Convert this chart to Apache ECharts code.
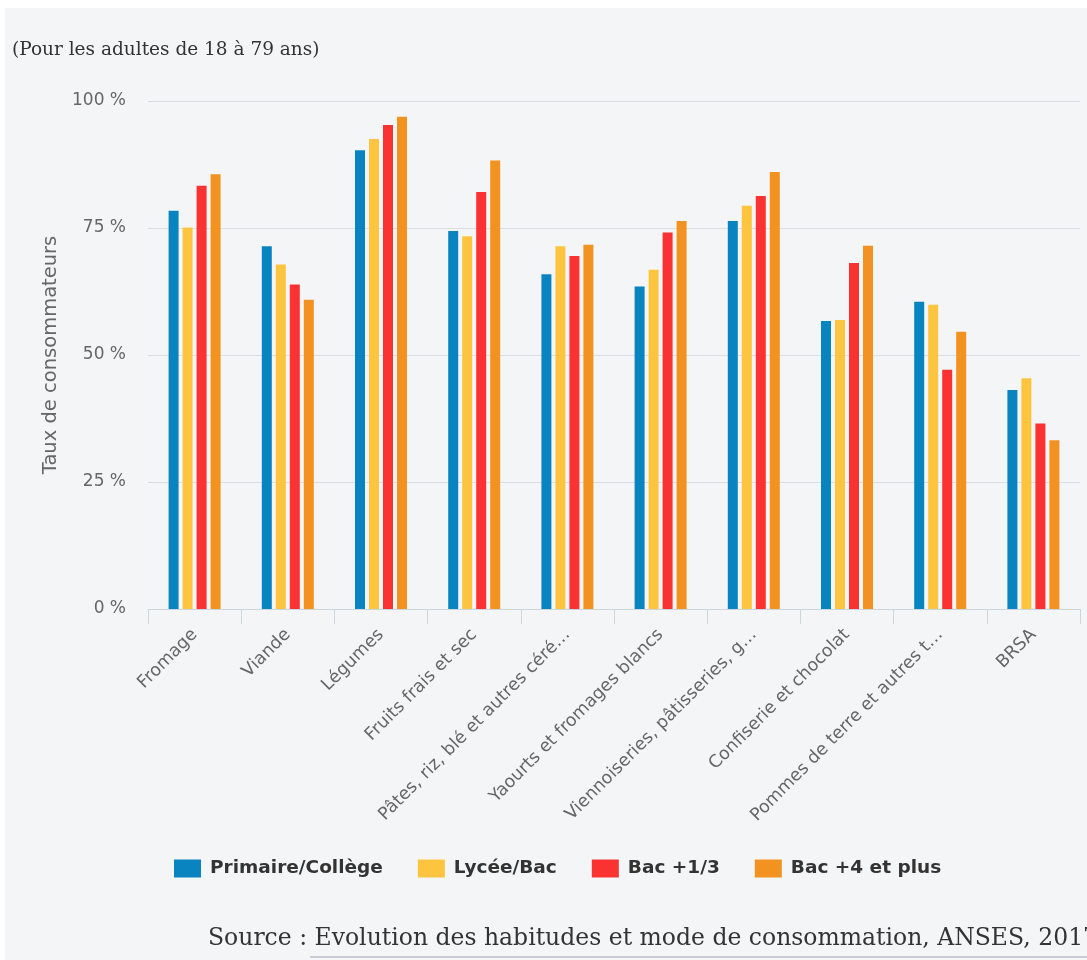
<!DOCTYPE html>
<html>
<head>
<meta charset="utf-8">
<script src="https://cdn.jsdelivr.net/npm/echarts@6/dist/echarts.min.js"></script>
<style>
html,body{margin:0;padding:0;background:#ffffff;}
#chart{position:absolute;left:5px;top:8px;width:1082px;height:952px;background:#f4f5f7;}
</style>
</head>
<body>
<div id="chart"></div>
<script>
const categories = ["Fromage","Viande","Légumes","Fruits frais et sec","Pâtes, riz, blé et autres céré…","Yaourts et fromages blancs","Viennoiseries, pâtisseries, g…","Confiserie et chocolat","Pommes de terre et autres t…","BRSA"];
const seriesNames = ["Primaire/Collège","Lycée/Bac","Bac +1/3","Bac +4 et plus"];
const primaireCollege = [78.4, 71.4, 90.3, 74.4, 65.9, 63.5, 76.4, 56.7, 60.5, 43.1];
const lyceeBac        = [75.1, 67.8, 92.5, 73.4, 71.4, 66.8, 79.4, 56.9, 59.9, 45.4];
const bac13           = [83.3, 63.9, 95.3, 82.1, 69.5, 74.1, 81.3, 68.1, 47.1, 36.5];
const bac4Plus        = [85.6, 60.9, 96.9, 88.3, 71.7, 76.4, 86.0, 71.5, 54.6, 33.2];
const yTicks = [0, 25, 50, 75, 100];
const colors = ["#0a84c1","#fdc53f","#fb3232","#f29220"];
const subtitle = "(Pour les adultes de 18 à 79 ans)";
const sourceLabel = "Source : ";
const sourceLink = "Evolution des habitudes et mode de consommation, ANSES, 2017";
const yName = "Taux de consommateurs";

const values = [primaireCollege, lyceeBac, bac13, bac4Plus];
const chart = echarts.init(document.getElementById('chart'));
const sans = "DejaVu Sans";
const serif = "DejaVu Serif";

chart.setOption({
  backgroundColor: '#f4f5f7',
  animation: false,
  color: colors,
  grid: { left: 143, right: 7, top: 93, bottom: 351, containLabel: false },
  legend: {
    left: 164, top: 846,
    itemWidth: 27, itemHeight: 18, itemGap: 35,
    icon: 'rect',
    textStyle: { fontFamily: sans, fontWeight: 'bold', fontSize: 18.5, color: '#333', padding: [0,0,0,4] },
    data: seriesNames
  },
  xAxis: {
    type: 'category',
    data: categories,
    axisLine: { lineStyle: { color: '#ccd6e0', width: 1 } },
    axisTick: { show: true, length: 15, lineStyle: { color: '#ccd6e0' } },
    axisLabel: { rotate: 45, margin: 23, fontFamily: sans, fontSize: 17.5, color: '#666', interval: 0 }
  },
  yAxis: {
    type: 'value', min: 0, max: 100, interval: 25,
    name: yName, nameLocation: 'middle', nameGap: 87,
    nameTextStyle: { fontFamily: sans, fontSize: 19.5, color: '#666' },
    axisLine: { show: false }, axisTick: { show: false },
    splitLine: { lineStyle: { color: '#dadde2', width: 1 } },
    axisLabel: { margin: 22, fontFamily: sans, fontSize: 17, color: '#666',
      formatter: v => (yTicks.indexOf(v) >= 0 ? v + ' %' : '') }
  },
  series: values.map((d, i) => ({
    name: seriesNames[i], type: 'bar', data: d,
    barWidth: 10, barGap: '40%', barCategoryGap: '44%'
  })),
  graphic: [
    { type: 'text', left: 7, top: 33, style: { text: subtitle, fontFamily: serif, fontSize: 18.5, fill: '#333' } },
    { type: 'text', left: 203, top: 919, style: { text: sourceLabel + sourceLink, fontFamily: serif, fontSize: 23.5, fill: '#333' } },
    { type: 'rect', shape: { x: 305, y: 948, width: 800, height: 2 }, style: { fill: '#c7ccd6' } }
  ]
});
</script>
</body>
</html>
